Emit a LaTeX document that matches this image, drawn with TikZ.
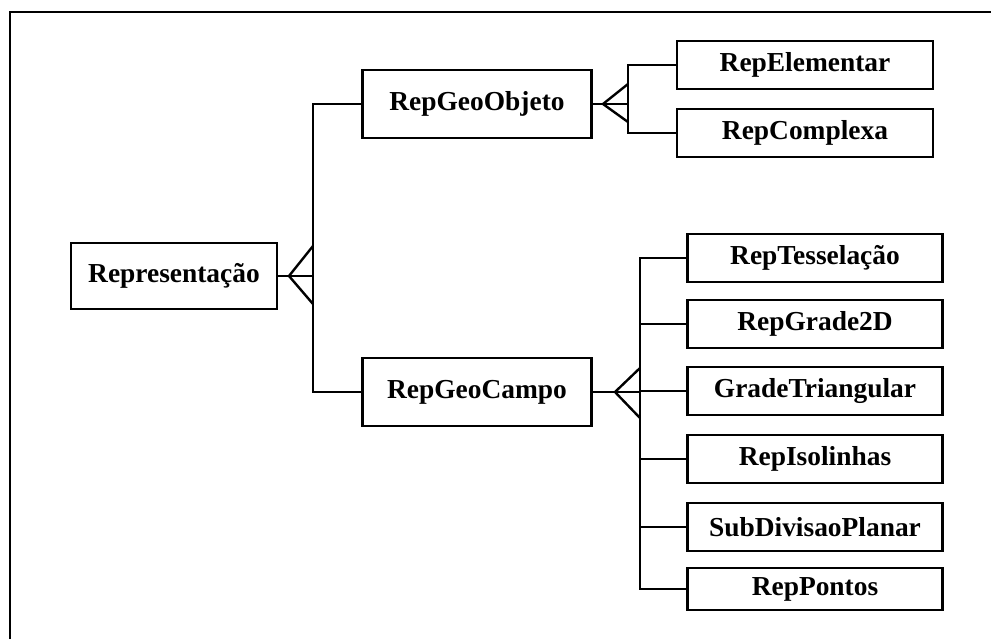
\documentclass[tikz,border=0pt]{standalone}
\usepackage{fontspec}
\setmainfont{Liberation Serif}
\begin{document}
\begin{tikzpicture}[x=0.025cm, y=-0.025cm, line width=1.7pt,
    repbox/.style={draw, line width=1.7pt, inner sep=0pt, minimum height=48*0.025cm,
        font=\fontsize{19.5}{22}\selectfont\bfseries},
    leafbox/.style={repbox, minimum width=255*0.025cm}]
    \useasboundingbox (0,0) rectangle (991,639);
    % moldura
    \draw[line width=2pt] (10,639) -- (10,12) -- (991,12);
    % caixas
    \node[repbox, minimum width=206*0.025cm, minimum height=66*0.025cm] (rep) at (174,276) {Representação};
    \node[repbox, minimum width=229*0.025cm, minimum height=68*0.025cm] (geoObj) at (477,104) {RepGeoObjeto};
    \node[repbox, minimum width=229*0.025cm, minimum height=68*0.025cm] (geoCampo) at (477,392) {RepGeoCampo};
    \node[repbox, minimum width=256*0.025cm] (elem) at (805,65) {RepElementar};
    \node[repbox, minimum width=256*0.025cm] (complexa) at (805,133) {RepComplexa};
    \node[leafbox] (tess) at (815,258) {RepTesselação};
    \node[leafbox] (grade) at (815,324) {RepGrade2D};
    \node[leafbox] (tri) at (815,391) {GradeTriangular};
    \node[leafbox] (iso) at (815,459) {RepIsolinhas};
    \node[leafbox] (subdiv) at (815,527) {SubDivisaoPlanar};
    \node[leafbox, minimum height=42*0.025cm] (pontos) at (815,589) {RepPontos};
    % ligacoes de Representacao
    \coordinate (repBar) at (313,276);
    \coordinate (repTip) at (289,276);
    \draw (rep.east) -- (repBar);
    \draw (geoObj.west) -| (repBar) |- (geoCampo.west);
    \draw (313,246) -- (repTip) -- (313,304);
    % ligacoes de RepGeoObjeto
    \coordinate (objBar) at (628,104);
    \coordinate (objTip) at (603,104);
    \draw (geoObj.east) -- (objBar);
    \draw (elem.west) -| (objBar) |- (complexa.west);
    \draw (628,84) -- (objTip) -- (628,122);
    % ligacoes de RepGeoCampo
    \coordinate (campoBar) at (640,392);
    \coordinate (campoTip) at (615,392);
    \draw (geoCampo.east) -- (campoBar);
    \draw (tess.west) -| (campoBar) |- (pontos.west);
    \foreach \n in {grade,tri,iso,subdiv}
        \draw (\n.west) -- (\n.west -| campoBar);
    \draw (640,368) -- (campoTip) -- (640,418);
\end{tikzpicture}
\end{document}
